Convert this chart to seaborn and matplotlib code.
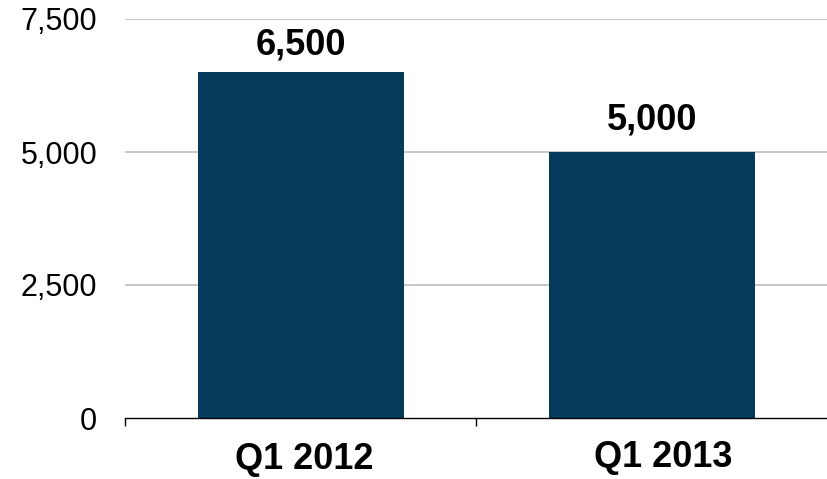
import matplotlib
matplotlib.use("Agg")
import matplotlib.pyplot as plt
import matplotlib.transforms as mtransforms
import seaborn as sns
import pandas as pd

categories = ["Q1 2012", "Q1 2013"]
values = [6500, 5000]
value_labels = ["6,500", "5,000"]
y_ticks = [0, 2500, 5000, 7500]
y_tick_labels = ["0", "2,500", "5,000", "7,500"]

sns.set_theme(style="white")
plt.rcParams['font.family'] = ['Liberation Sans', 'DejaVu Sans']

df = pd.DataFrame({"cat": categories, "val": values})

fig = plt.figure(figsize=(8.28, 4.79), dpi=100)
ax = fig.add_axes([125/828, 1-418/479, 1-125/828 - 0.0005, (418-19)/479])

ax.set_axisbelow(True)
for t in y_ticks[1:]:
    ax.axhline(t, color="#BFBFBF", lw=1.2, zorder=0)

sns.barplot(data=df, x="cat", y="val", color="#073B5C", saturation=1,
            width=0.587, linewidth=0, ax=ax, zorder=2)

label_offsets = [13, 16.5]
for i, (v, lab) in enumerate(zip(values, value_labels)):
    ax.annotate(lab, (i, v), xytext=(0.5, label_offsets[i]), textcoords="offset points",
                ha="center", va="baseline", fontsize=26, fontweight="bold",
                color="black")

ax.set_xlim(-0.5, 1.5)
ax.set_ylim(0, 7500)
ax.set_yticks(y_ticks)
ax.set_yticklabels(y_tick_labels, fontsize=22, color="black")
ax.tick_params(axis="y", length=0, pad=20)
ax.set_xticks(range(len(categories)))
ax.set_xticklabels(categories, fontsize=26, fontweight="bold", color="black")
ax.tick_params(axis="x", which="major", length=0, pad=17)
ax.set_xticks([-0.5, 0.5, 1.5], minor=True)
ax.tick_params(axis="x", which="minor", bottom=True, length=6, width=1, color="black", direction="out")
ax.set_xlabel("")
ax.set_ylabel("")
for s in ["left", "right", "top"]:
    ax.spines[s].set_visible(False)
ax.spines["bottom"].set_color("black")
ax.spines["bottom"].set_linewidth(1)

shifts = [(3.5, 0), (11, 2)]
for lbl, (dx, dy) in zip(ax.get_xticklabels(), shifts):
    off = mtransforms.ScaledTranslation(dx / 100, dy / 100, fig.dpi_scale_trans)
    lbl.set_transform(lbl.get_transform() + off)

fig.savefig("out.png", dpi=100)
